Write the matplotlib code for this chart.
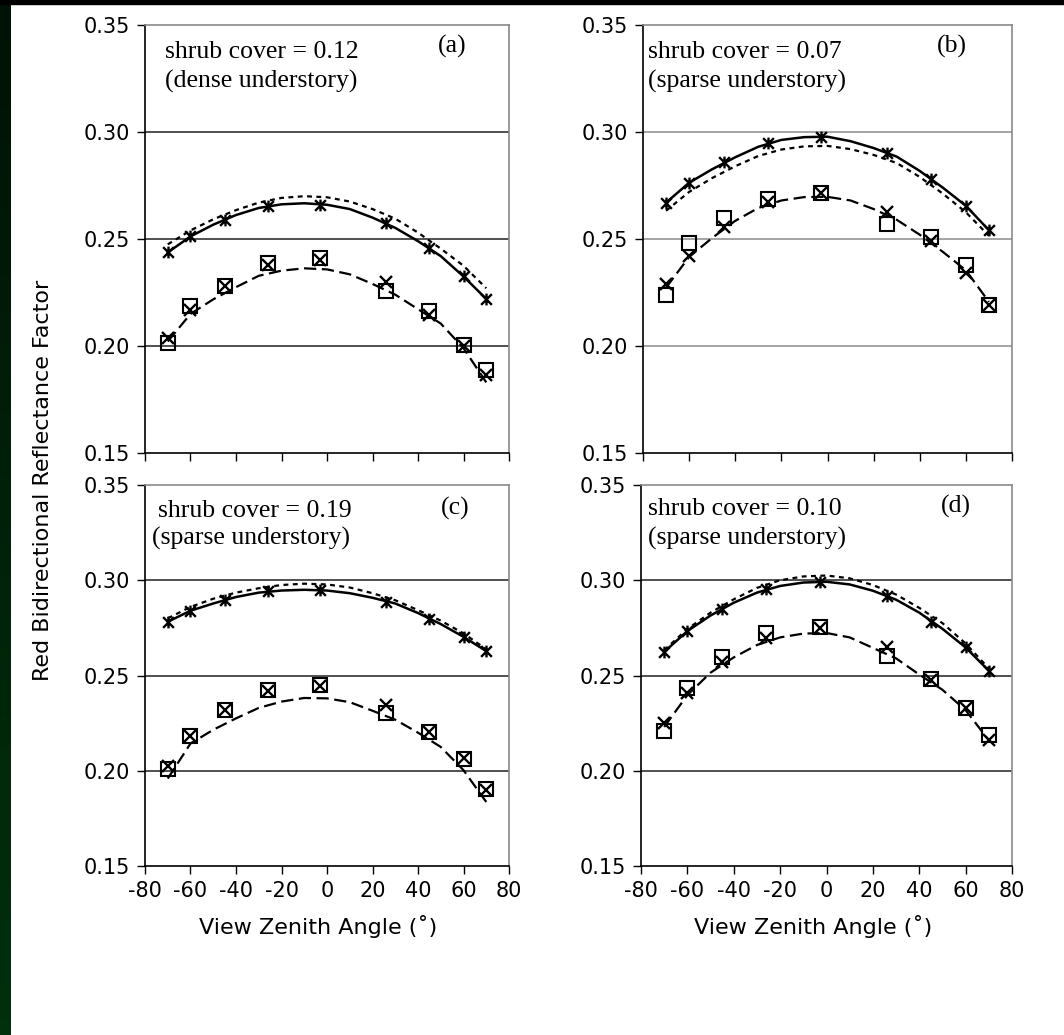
import numpy as np
import matplotlib
matplotlib.use("Agg")
import matplotlib.pyplot as plt
from matplotlib.path import Path
from matplotlib.patches import Rectangle

plt.rcParams["axes.unicode_minus"] = False

# view zenith angles of the measurements and of the model curves
angles = [-70, -60, -45, -26, -3, 26, 45, 60, 70]
curve_angles = [-70, -60, -50, -40, -30, -20, -10, 0, 10, 20, 30, 40, 50, 60, 70]

# (a) shrub cover = 0.12, dense understory
star_a = [0.2437, 0.2512, 0.2590, 0.2655, 0.2660, 0.2574, 0.2457, 0.2325, 0.2220]
square_a = [0.2014, 0.2185, 0.2281, 0.2387, 0.2410, 0.2255, 0.2162, 0.2006, 0.1886]
cross_a = [0.2037, 0.2170, 0.2280, 0.2380, 0.2400, 0.2300, 0.2146, 0.2000, 0.1866]
solid_a = [0.2437, 0.2512, 0.2567, 0.2612, 0.2645, 0.2662, 0.2667, 0.2660, 0.2640, 0.2600, 0.2552, 0.2490, 0.2420, 0.2325, 0.2220]
dotted_a = [0.2475, 0.2540, 0.2592, 0.2635, 0.2670, 0.2692, 0.2700, 0.2695, 0.2675, 0.2640, 0.2595, 0.2530, 0.2455, 0.2375, 0.2270]
dashed_a = [0.2021, 0.2150, 0.2218, 0.2275, 0.2328, 0.2352, 0.2363, 0.2358, 0.2335, 0.2290, 0.2240, 0.2172, 0.2105, 0.1990, 0.1830]

# (b) shrub cover = 0.07, sparse understory
star_b = [0.2670, 0.2763, 0.2858, 0.2950, 0.2978, 0.2900, 0.2780, 0.2655, 0.2541]
square_b = [0.2237, 0.2479, 0.2596, 0.2686, 0.2717, 0.2572, 0.2510, 0.2380, 0.2190]
cross_b = [0.2292, 0.2421, 0.2557, 0.2674, 0.2717, 0.2627, 0.2491, 0.2343, 0.2190]
solid_b = [0.2670, 0.2763, 0.2826, 0.2882, 0.2931, 0.2963, 0.2976, 0.2978, 0.2957, 0.2925, 0.2885, 0.2818, 0.2740, 0.2655, 0.2541]
dotted_b = [0.2632, 0.2720, 0.2785, 0.2840, 0.2888, 0.2918, 0.2933, 0.2935, 0.2920, 0.2893, 0.2855, 0.2790, 0.2712, 0.2625, 0.2515]
dashed_b = [0.2273, 0.2416, 0.2505, 0.2585, 0.2645, 0.2680, 0.2696, 0.2697, 0.2680, 0.2640, 0.2590, 0.2520, 0.2440, 0.2354, 0.2206]

# (c) shrub cover = 0.19, sparse understory
star_c = [0.2782, 0.2840, 0.2896, 0.2943, 0.2947, 0.2887, 0.2796, 0.2703, 0.2628]
square_c = [0.2011, 0.2181, 0.2321, 0.2423, 0.2449, 0.2304, 0.2204, 0.2064, 0.1906]
cross_c = [0.2024, 0.2181, 0.2318, 0.2420, 0.2444, 0.2344, 0.2204, 0.2069, 0.1901]
solid_c = [0.2782, 0.2840, 0.2878, 0.2912, 0.2935, 0.2946, 0.2950, 0.2946, 0.2932, 0.2908, 0.2878, 0.2828, 0.2770, 0.2703, 0.2628]
dotted_c = [0.2800, 0.2860, 0.2903, 0.2935, 0.2958, 0.2975, 0.2982, 0.2978, 0.2962, 0.2932, 0.2895, 0.2843, 0.2788, 0.2721, 0.2638]
dashed_c = [0.1959, 0.2143, 0.2215, 0.2275, 0.2330, 0.2363, 0.2382, 0.2380, 0.2360, 0.2315, 0.2268, 0.2200, 0.2125, 0.2003, 0.1836]

# (d) shrub cover = 0.10, sparse understory
star_d = [0.2624, 0.2733, 0.2849, 0.2953, 0.2992, 0.2917, 0.2782, 0.2647, 0.2525]
square_d = [0.2208, 0.2437, 0.2595, 0.2721, 0.2756, 0.2603, 0.2484, 0.2330, 0.2186]
cross_d = [0.2251, 0.2409, 0.2571, 0.2698, 0.2747, 0.2651, 0.2476, 0.2327, 0.2160]
solid_d = [0.2624, 0.2733, 0.2815, 0.2882, 0.2935, 0.2970, 0.2988, 0.2992, 0.2978, 0.2945, 0.2898, 0.2830, 0.2745, 0.2647, 0.2525]
dotted_d = [0.2633, 0.2744, 0.2830, 0.2900, 0.2960, 0.3000, 0.3020, 0.3025, 0.3010, 0.2975, 0.2925, 0.2855, 0.2775, 0.2668, 0.2537]
dashed_d = [0.2230, 0.2397, 0.2515, 0.2595, 0.2660, 0.2700, 0.2720, 0.2723, 0.2700, 0.2645, 0.2590, 0.2505, 0.2425, 0.2318, 0.2160]

cover_labels = ["shrub cover = 0.12", "shrub cover = 0.07", "shrub cover = 0.19", "shrub cover = 0.10"]
understory_labels = ["(dense understory)", "(sparse understory)", "(sparse understory)", "(sparse understory)"]
panel_letters = ["(a)", "(b)", "(c)", "(d)"]
y_ticks = [0.15, 0.20, 0.25, 0.30, 0.35]
x_ticks = [-80, -60, -40, -20, 0, 20, 40, 60, 80]

W, H = 1064, 1035
fig = plt.figure(figsize=(W / 100, H / 100), dpi=100)
fig.patch.set_facecolor("white")

# dark green strip on the left and thin black band at the top
strip = fig.add_axes([0, 0, 11 / W, 1])
grad = np.linspace(0, 1, 256)[:, None]
green = np.zeros((256, 1, 3))
green[..., 1] = 0.07 + 0.12 * grad
green[..., 2] = 0.02 + 0.03 * grad
strip.imshow(green, aspect="auto", extent=[0, 1, 0, 1], origin="upper")
strip.axis("off")
fig.patches.append(Rectangle((0, 1 - 4 / H), 1, 4 / H, transform=fig.transFigure,
                             color="black", zorder=5))


def px_rect(x0, y0, x1, y1):
    return [x0 / W, 1 - y1 / H, (x1 - x0) / W, (y1 - y0) / H]


rects = [px_rect(145, 25, 509, 453), px_rect(643, 25, 1012, 453),
         px_rect(145, 485, 509, 866), px_rect(641, 485, 1012, 866)]
grid_colors = ["#202020", "#8a8a8a", "#202020", "#202020"]

star_path = Path([(-1, -1), (1, 1), (-1, 1), (1, -1), (0, -1.1), (0, 1.1)],
                 [Path.MOVETO, Path.LINETO] * 3)

panels = [
    (star_a, square_a, cross_a, solid_a, dotted_a, dashed_a),
    (star_b, square_b, cross_b, solid_b, dotted_b, dashed_b),
    (star_c, square_c, cross_c, solid_c, dotted_c, dashed_c),
    (star_d, square_d, cross_d, solid_d, dotted_d, dashed_d),
]

for i, (star, square, cross, solid, dotted, dashed) in enumerate(panels):
    ax = fig.add_axes(rects[i])
    for y in [0.20, 0.25, 0.30]:
        ax.axhline(y, color=grid_colors[i], lw=1.1, zorder=1)
    ax.plot(curve_angles, dotted, color="black", lw=1.6, linestyle=(0, (2.2, 2.0)), zorder=2)
    ax.plot(curve_angles, solid, color="black", lw=1.8, zorder=2)
    ax.plot(curve_angles, dashed, color="black", lw=1.6, linestyle=(0, (5.5, 2.5)), zorder=2)
    ax.plot(angles, square, linestyle="none", marker="s", markersize=10,
            markerfacecolor="none", markeredgecolor="black", markeredgewidth=1.5, zorder=3)
    ax.plot(angles, cross, linestyle="none", marker="x", markersize=9,
            markeredgecolor="black", markeredgewidth=1.7, zorder=4)
    ax.plot(angles, star, linestyle="none", marker=star_path, markersize=8.5,
            markeredgecolor="black", markeredgewidth=1.7, zorder=4)

    ax.set_xlim(-80, 80)
    ax.set_ylim(0.15, 0.35)
    ax.set_xticks(x_ticks)
    ax.set_yticks(y_ticks)
    ax.set_yticklabels(["%.2f" % v for v in y_ticks])
    ax.tick_params(direction="out", length=6, width=1, labelsize=15, pad=5, colors="black")
    if i < 2:
        ax.tick_params(labelbottom=False)
    for side in ["top", "right"]:
        ax.spines[side].set_color("#8a8a8a")
        ax.spines[side].set_linewidth(1.2)
    for side in ["left", "bottom"]:
        ax.spines[side].set_color("black")
        ax.spines[side].set_linewidth(1.2)

# panel annotations (pixel positions of baselines)
text_pos = [(165, 58, 165, 88, 452, 53), (648, 58, 648, 88, 952, 53),
            (158, 517, 152, 545, 455, 515), (648, 515, 648, 545, 956, 513)]
for i, (x1, y1, x2, y2, xl, yl) in enumerate(text_pos):
    fig.text(x1 / W, 1 - y1 / H, cover_labels[i], family="Liberation Serif",
             fontsize=18.5, va="baseline", ha="left")
    fig.text(x2 / W, 1 - y2 / H, understory_labels[i], family="Liberation Serif",
             fontsize=18.5, va="baseline", ha="left")
    fig.text(xl / W, 1 - yl / H, panel_letters[i], family="Liberation Serif",
             fontsize=18.5, va="baseline", ha="center")

fig.text(43 / W, 1 - 480 / H, "Red Bidirectional Reflectance Factor", rotation=90,
         fontsize=16, ha="center", va="center")
fig.text(318 / W, 1 - 927 / H, "View Zenith Angle (\u02da)", fontsize=16, ha="center", va="center")
fig.text(813 / W, 1 - 927 / H, "View Zenith Angle (\u02da)", fontsize=16, ha="center", va="center")

fig.savefig("out.png", dpi=100)
